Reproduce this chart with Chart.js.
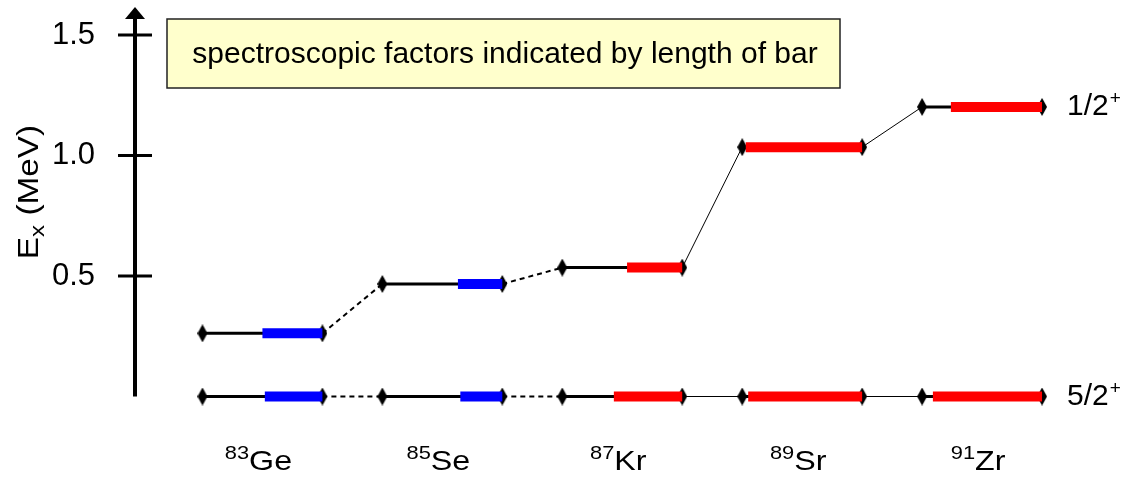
<!DOCTYPE html>
<html>
<head>
<meta charset="utf-8">
<script src="https://cdn.jsdelivr.net/npm/chart.js@4.4.0/dist/chart.umd.min.js"></script>
<style>
  html, body { margin: 0; padding: 0; background: #fff; }
  #wrap { width: 1134px; height: 479px; position: relative; }
</style>
</head>
<body>
<div id="wrap"><canvas id="levels"></canvas></div>
<script>
const massNumbers = [83, 85, 87, 89, 91];
const elements = ["Ge", "Se", "Kr", "Sr", "Zr"];
// 5/2+ ground state and 1/2+ excited state, MeV
const groundEnergy = [0, 0, 0, 0, 0];
const excitedEnergy = [0.262, 0.467, 0.535, 1.035, 1.202];
// spectroscopic factors, read as bar length / level width
const sfGround = [0.48, 0.35, 0.57, 0.95, 0.91];
const sfExcited = [0.5, 0.37, 0.46, 0.97, 0.76];
const spinLabels = ["5/2", "1/2"];
const yTicks = [0.5, 1.0, 1.5];
const noteText = "spectroscopic factors indicated by length of bar";

const FONT = "'Liberation Sans', Arial, sans-serif";
const HALF = 1 / 3; // half width of a level in x units
const STRETCH = 1.15; // the original lettering is a bit wide

// tall narrow diamond marker
const diamond = document.createElement("canvas");
diamond.width = 10;
diamond.height = 18;
(function () {
  const c = diamond.getContext("2d");
  c.fillStyle = "#000";
  c.beginPath();
  c.moveTo(5, 0);
  c.lineTo(10, 9);
  c.lineTo(5, 18);
  c.lineTo(0, 9);
  c.closePath();
  c.fill();
})();

const datasets = [];
[groundEnergy, excitedEnergy].forEach((energy, s) => {
  const sf = s === 0 ? sfGround : sfExcited;
  elements.forEach((el, i) => {
    const color = i < 2 ? "#0000ff" : "#ff0000";
    // bar = spectroscopic factor
    datasets.push({
      data: [
        { x: i + HALF - 2 * HALF * sf[i], y: energy[i] },
        { x: i + HALF, y: energy[i] },
      ],
      borderColor: color,
      borderWidth: 10,
      borderCapStyle: "butt",
      pointRadius: 0,
      clip: false,
      order: 0,
    });
    // the level itself
    datasets.push({
      data: [
        { x: i - HALF, y: energy[i] },
        { x: i + HALF, y: energy[i] },
      ],
      borderColor: "#000",
      borderWidth: 3,
      pointStyle: diamond,
      pointRadius: 5,
      clip: false,
      order: 1,
    });
    // link to the next nucleus
    if (i < elements.length - 1) {
      datasets.push({
        data: [
          { x: i + HALF, y: energy[i] },
          { x: i + 1 - HALF, y: energy[i + 1] },
        ],
        borderColor: "#000",
        borderWidth: i < 2 ? 2 : 1,
        borderDash: i < 2 ? [5, 4] : [],
        pointRadius: 0,
        clip: false,
        order: 2,
      });
    }
  });
});

function wideText(ctx, text, px, py) {
  ctx.save();
  ctx.translate(px, py);
  ctx.scale(STRETCH, 1);
  ctx.fillText(text, 0, 0);
  ctx.restore();
  return ctx.measureText(text).width * STRETCH;
}

const decor = {
  id: "decor",
  afterDraw(chart) {
    const { ctx, chartArea: a } = chart;
    const x = chart.scales.x;
    const y = chart.scales.y;
    ctx.save();

    // axis with arrow head
    ctx.strokeStyle = "#000";
    ctx.fillStyle = "#000";
    ctx.lineWidth = 4;
    ctx.beginPath();
    ctx.moveTo(a.left, a.bottom);
    ctx.lineTo(a.left, a.top + 6);
    ctx.stroke();
    ctx.beginPath();
    ctx.moveTo(a.left, a.top - 4);
    ctx.lineTo(a.left + 10, a.top + 8);
    ctx.lineTo(a.left - 10, a.top + 8);
    ctx.closePath();
    ctx.fill();
    ctx.lineWidth = 3;
    yTicks.forEach((v) => {
      const py = y.getPixelForValue(v);
      ctx.beginPath();
      ctx.moveTo(a.left - 17, py);
      ctx.lineTo(a.left + 17, py);
      ctx.stroke();
    });

    // note box
    ctx.fillStyle = "#ffffcc";
    ctx.fillRect(167, 19, 673, 69);
    ctx.strokeStyle = "#222";
    ctx.lineWidth = 1.5;
    ctx.strokeRect(167, 19, 673, 69);
    ctx.fillStyle = "#000";
    ctx.font = "30px " + FONT;
    ctx.textAlign = "center";
    ctx.textBaseline = "middle";
    ctx.fillText(noteText, 505, 55);

    // y title: E_x (MeV), drawn along the rotated axis
    ctx.save();
    ctx.translate(28, 192);
    ctx.rotate(-Math.PI / 2);
    ctx.textAlign = "left";
    ctx.textBaseline = "alphabetic";
    ctx.font = "29px " + FONT;
    const wE = ctx.measureText("E").width * STRETCH;
    const wRest = ctx.measureText(" (MeV)").width * STRETCH;
    ctx.font = "21px " + FONT;
    const wx = ctx.measureText("x").width * STRETCH;
    const sx = -(wE + wx + wRest) / 2;
    ctx.font = "29px " + FONT;
    wideText(ctx, "E", sx, 10);
    ctx.font = "21px " + FONT;
    wideText(ctx, "x", sx + wE, 16);
    ctx.font = "29px " + FONT;
    wideText(ctx, " (MeV)", sx + wE + wx, 10);
    ctx.restore();

    // nucleus labels
    ctx.textAlign = "left";
    ctx.textBaseline = "alphabetic";
    elements.forEach((el, i) => {
      const cx = x.getPixelForValue(i) - 4;
      ctx.font = "19px " + FONT;
      const ws = ctx.measureText(String(massNumbers[i])).width * STRETCH;
      ctx.font = "28px " + FONT;
      const we = ctx.measureText(el).width * STRETCH;
      const sx0 = cx - (ws + we) / 2;
      ctx.font = "19px " + FONT;
      wideText(ctx, String(massNumbers[i]), sx0, 459);
      ctx.font = "28px " + FONT;
      wideText(ctx, el, sx0 + ws, 470);
    });

    // spin labels at right
    const last = elements.length - 1;
    [groundEnergy, excitedEnergy].forEach((energy, s) => {
      const px = x.getPixelForValue(last + HALF) + 25;
      const py = y.getPixelForValue(energy[last]);
      ctx.font = "30px " + FONT;
      ctx.textBaseline = "middle";
      ctx.fillText(spinLabels[s], px, py);
      const w = ctx.measureText(spinLabels[s]).width;
      ctx.font = "19px " + FONT;
      ctx.fillText("+", px + w + 1, py - 8);
    });

    ctx.restore();
  },
};

new Chart(document.getElementById("levels"), {
  type: "line",
  data: { datasets },
  options: {
    responsive: true,
    maintainAspectRatio: false,
    animation: false,
    events: [],
    layout: { padding: { top: 11, bottom: 82.5, right: 7.5, left: 0 } },
    plugins: { legend: { display: false }, tooltip: { enabled: false } },
    scales: {
      x: { type: "linear", min: -0.7083, max: 4.8, display: false },
      y: {
        min: 0,
        max: 1.6,
        afterFit: (s) => {
          s.width = 135;
          s.paddingTop = 0;
          s.paddingBottom = 0;
        },
        afterBuildTicks: (s) => {
          s.ticks = yTicks.map((v) => ({ value: v }));
        },
        grid: { display: false },
        border: { display: false },
        ticks: {
          color: "#000",
          padding: 32,
          font: { size: 31, family: FONT },
          callback: (v) => v.toFixed(1),
        },
      },
    },
  },
  plugins: [decor],
});
</script>
</body>
</html>
